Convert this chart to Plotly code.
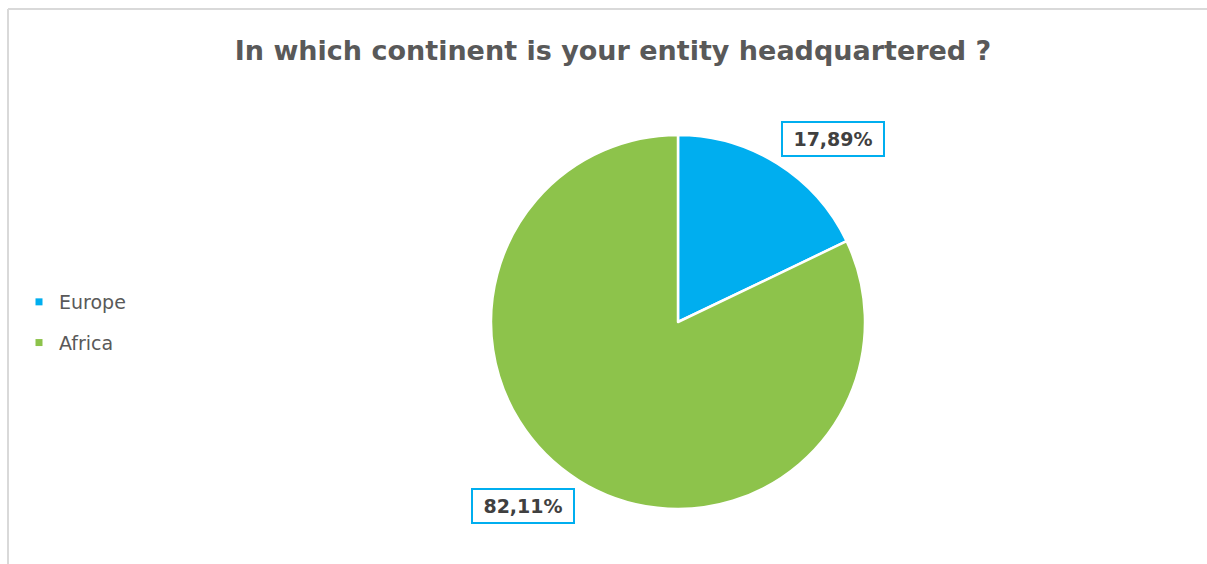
import plotly.graph_objects as go

# Survey answers: share of entities by headquarters continent (%)
continents = ["Europe", "Africa"]
shares = [17.89, 82.11]
colors = ["#00AEEF", "#8DC34B"]

W, H = 1207, 564
cx, cy, r = 678, 322, 187
FONT = "DejaVu Sans, sans-serif"

fig = go.Figure(go.Pie(
    labels=continents,
    values=shares,
    sort=False,
    direction="clockwise",
    rotation=0,
    marker=dict(colors=colors, line=dict(color="white", width=2.5)),
    textinfo="none",
    hoverinfo="label+percent",
    showlegend=False,
    domain=dict(x=[(cx - r) / W, (cx + r) / W], y=[1 - (cy + r) / H, 1 - (cy - r) / H]),
))

# Legend entries: one square swatch per continent, spaced apart
for name, col in zip(continents, colors):
    fig.add_trace(go.Scatter(
        x=[None], y=[None], mode="markers", name=name, legendgroup=name,
        marker=dict(symbol="square", size=7, color=col),
    ))

# Boxed value labels placed just outside the pie, formatted with a decimal comma
label_pos = {"Europe": (833, 139), "Africa": (523, 506)}
for name, val in zip(continents, shares):
    px, py = label_pos[name]
    fig.add_annotation(
        x=px / W, y=1 - py / H, xref="paper", yref="paper",
        text=f"<b>{val:.2f}%</b>".replace(".", ","),
        showarrow=False,
        font=dict(family=FONT, size=19, color="#404040"),
        bgcolor="white", bordercolor="#00AEEF", borderwidth=2, borderpad=0,
        width=100, height=32,
        xanchor="center", yanchor="middle",
    )

# Chart frame (top and left edges)
frame = dict(color="#D9D9D9", width=2)
fig.add_shape(type="line", xref="paper", yref="paper",
              x0=8 / W, x1=1, y0=1 - 9 / H, y1=1 - 9 / H, line=frame)
fig.add_shape(type="line", xref="paper", yref="paper",
              x0=8 / W, x1=8 / W, y0=0, y1=1 - 9 / H, line=frame)

fig.update_layout(
    width=W, height=H,
    margin=dict(l=0, r=0, t=0, b=0),
    paper_bgcolor="white",
    plot_bgcolor="white",
    xaxis=dict(visible=False),
    yaxis=dict(visible=False),
    title=dict(
        text="<b>In which continent is your entity headquartered ?</b>",
        x=613 / W, xanchor="center", y=1 - 51 / H, yanchor="middle",
        font=dict(family=FONT, size=27, color="#595959"),
    ),
    legend=dict(
        x=19 / W, y=1 - 283 / H, xanchor="left", yanchor="top",
        font=dict(family=FONT, size=19, color="#595959"),
        itemwidth=30, tracegroupgap=13,
    ),
)

fig.write_html("out.html")
